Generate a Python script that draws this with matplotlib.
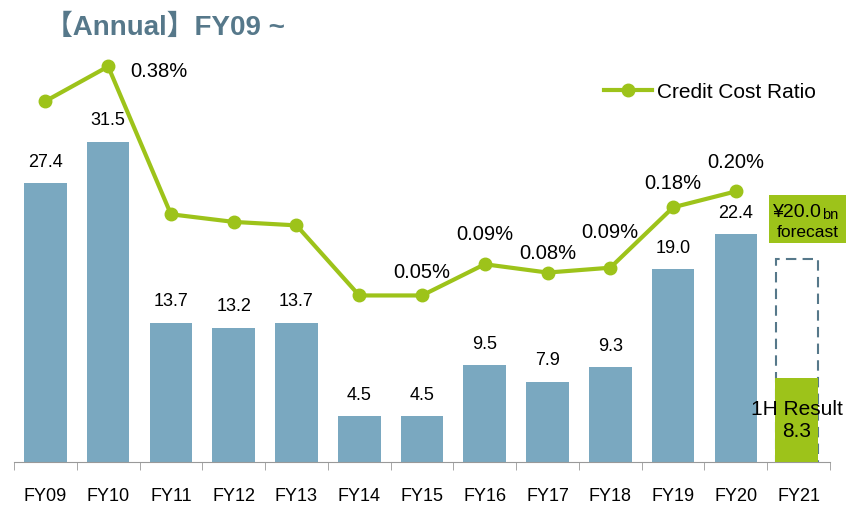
import numpy as np
import matplotlib.pyplot as plt
from matplotlib.patches import Rectangle

plt.rcParams['font.family'] = ['Liberation Sans', 'DejaVu Sans']

# data
years = ['FY09', 'FY10', 'FY11', 'FY12', 'FY13', 'FY14', 'FY15',
         'FY16', 'FY17', 'FY18', 'FY19', 'FY20', 'FY21']
credit_cost = [27.4, 31.5, 13.7, 13.2, 13.7, 4.5, 4.5, 9.5, 7.9, 9.3, 19.0, 22.4]
ratio = [0.33, 0.38, 0.167, 0.156, 0.151, 0.05, 0.05, 0.095, 0.083, 0.09, 0.177, 0.20]
ratio_labels = {1: '0.38%', 6: '0.05%', 7: '0.09%', 8: '0.08%', 9: '0.09%',
                10: '0.18%', 11: '0.20%'}
fy21_half = 8.3
fy21_forecast = 20.0

BLUE = '#7aa8c0'
GREEN = '#9dc31a'
SLATE = '#56788a'

fig = plt.figure(figsize=(8.49, 5.06), dpi=100)
ax = fig.add_axes([14 / 849, 43 / 506, 816 / 849, 433 / 506])
x = np.arange(len(years))
w = 0.68

ax.bar(x[:12], credit_cost, width=w, color=BLUE, zorder=2)
for xi, v in zip(x[:12], credit_cost):
    ax.text(xi, v + 2.15, f'{v:.1f}', ha='center', va='center', fontsize=13)

# FY21 forecast box and 1H result
ax.add_patch(Rectangle((11.64, 0), 0.67, fy21_forecast, fill=False,
                       ec=SLATE, lw=1.5, ls=(0, (5, 3)), zorder=2))
ax.bar(11.97, fy21_half, width=w, color=GREEN, zorder=3)
ax.text(11.97, 4.2, f'1H Result\n{fy21_half}', ha='center', va='center',
        fontsize=15, linespacing=1.2, zorder=4)
ax.add_patch(Rectangle((11.53, 21.5), 1.22, 4.75, fc=GREEN, ec='none',
                       clip_on=False, zorder=3))
ax.text(12.37, 24.6, f'¥{fy21_forecast:.1f}', ha='right', va='center',
        fontsize=14, zorder=4)
ax.text(12.38, 24.35, 'bn', ha='left', va='center', fontsize=10.5, zorder=4,
        clip_on=False)
ax.text(12.14, 22.65, 'forecast', ha='center', va='center', fontsize=12.5, zorder=4)

ax.set_xlim(-0.5, 12.5)
ax.set_ylim(0, 42.6)
for s in ['top', 'right', 'left']:
    ax.spines[s].set_visible(False)
ax.spines['bottom'].set_color('#999999')
ax.set_yticks([])
ax.set_xticks(x)
ax.set_xticklabels(years, fontsize=13)
ax.tick_params(axis='x', length=0, pad=18)
ax.set_xticks(np.arange(-0.5, 13, 1), minor=True)
ax.tick_params(axis='x', which='minor', length=6, color='#999999')

ax2 = ax.twinx()
ax2.set_ylim(-0.19, 0.434)
ax2.plot(x[:12], ratio, color=GREEN, lw=3, marker='o', ms=9, zorder=5,
         label='Credit Cost Ratio')
lab_dy = {6: 0.035, 7: 0.045, 8: 0.029, 9: 0.052, 10: 0.036, 11: 0.043}
for i, lab in ratio_labels.items():
    if i == 1:
        ax2.text(x[i] + 0.35, ratio[i] - 0.006, lab, ha='left', va='center', fontsize=14.5)
    else:
        ax2.text(x[i], ratio[i] + lab_dy[i], lab, ha='center', va='center', fontsize=14.5)
ax2.axis('off')
ax2.legend(loc='upper left', bbox_to_anchor=(0.7, 0.92), frameon=False,
           fontsize=15, handlelength=2.3, handletextpad=0.25)

fig.text(45 / 849, 1 - 28 / 506, '【Annual】FY09 ~', fontsize=20, fontweight='bold',
         color=SLATE, va='center', ha='left',
         family=['Liberation Sans', 'Noto Sans CJK JP'])

fig.savefig('out.png', dpi=100)
